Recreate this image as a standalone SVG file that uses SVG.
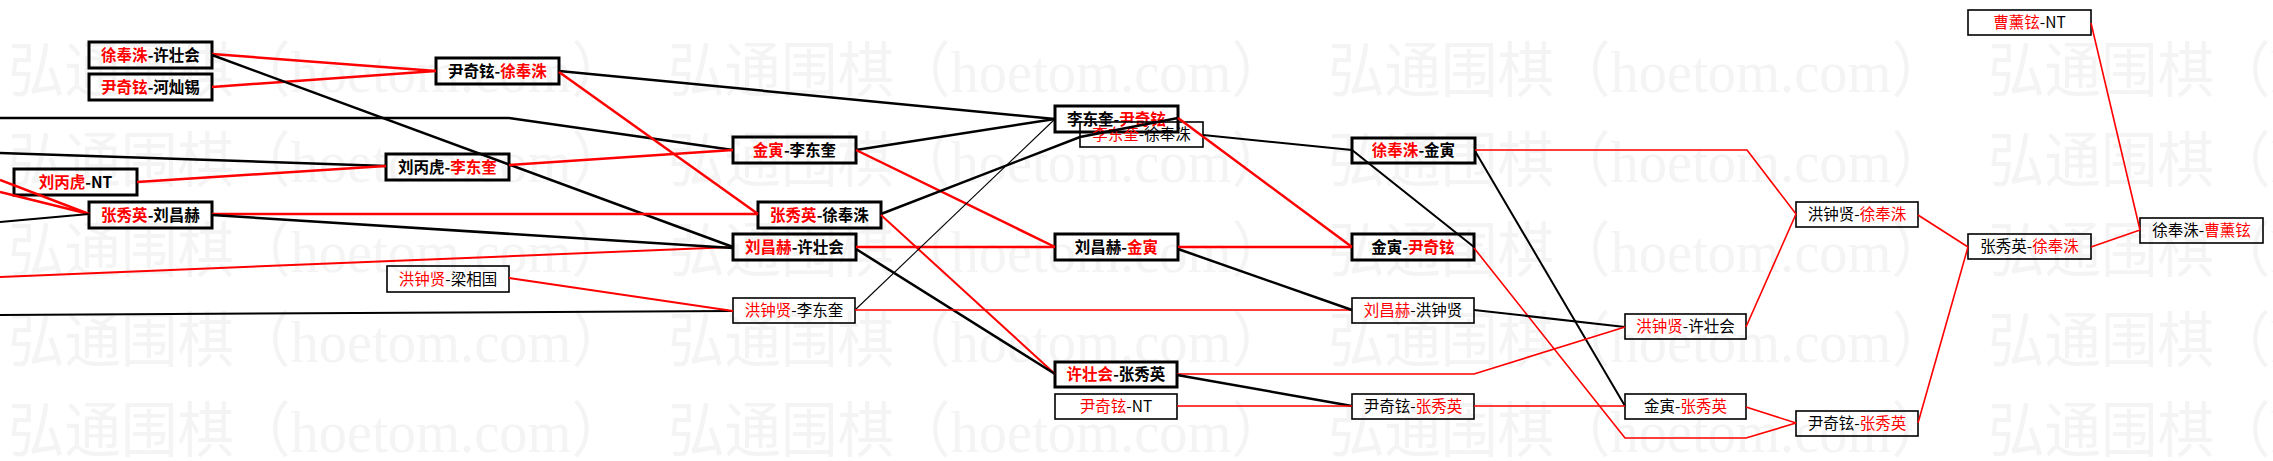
<svg xmlns="http://www.w3.org/2000/svg" width="2273" height="461" viewBox="0 0 2273 461">
<style>
.wm{font-family:"Liberation Serif","Noto Sans CJK SC",serif;font-size:60px;fill:#f4f4f4}
.bx{fill:none;stroke:#000}
.tk{stroke-width:3}
.tn{stroke-width:1.6}
.t{font-family:"Noto Sans CJK SC",sans-serif;font-size:15.5px;fill:#000;text-anchor:middle}
.b{font-weight:bold}
.r{fill:#ff0000}
.cr{stroke:#ff0000;fill:none}
.ck{stroke:#000;fill:none}
.w3{stroke-width:2.5}
.w2{stroke-width:2}
.w1{stroke-width:1.6}
.w0{stroke-width:1.1}
</style>
<rect width="2273" height="461" fill="#ffffff"/>
<g id="watermark">
<text class="wm" x="8" y="92" textLength="620" lengthAdjust="spacingAndGlyphs">弘通围棋（hoetom.com）</text>
<text class="wm" x="668" y="92" textLength="620" lengthAdjust="spacingAndGlyphs">弘通围棋（hoetom.com）</text>
<text class="wm" x="1328" y="92" textLength="620" lengthAdjust="spacingAndGlyphs">弘通围棋（hoetom.com）</text>
<text class="wm" x="1988" y="92" textLength="620" lengthAdjust="spacingAndGlyphs">弘通围棋（hoetom.com）</text>
<text class="wm" x="8" y="182" textLength="620" lengthAdjust="spacingAndGlyphs">弘通围棋（hoetom.com）</text>
<text class="wm" x="668" y="182" textLength="620" lengthAdjust="spacingAndGlyphs">弘通围棋（hoetom.com）</text>
<text class="wm" x="1328" y="182" textLength="620" lengthAdjust="spacingAndGlyphs">弘通围棋（hoetom.com）</text>
<text class="wm" x="1988" y="182" textLength="620" lengthAdjust="spacingAndGlyphs">弘通围棋（hoetom.com）</text>
<text class="wm" x="8" y="272" textLength="620" lengthAdjust="spacingAndGlyphs">弘通围棋（hoetom.com）</text>
<text class="wm" x="668" y="272" textLength="620" lengthAdjust="spacingAndGlyphs">弘通围棋（hoetom.com）</text>
<text class="wm" x="1328" y="272" textLength="620" lengthAdjust="spacingAndGlyphs">弘通围棋（hoetom.com）</text>
<text class="wm" x="1988" y="272" textLength="620" lengthAdjust="spacingAndGlyphs">弘通围棋（hoetom.com）</text>
<text class="wm" x="8" y="362" textLength="620" lengthAdjust="spacingAndGlyphs">弘通围棋（hoetom.com）</text>
<text class="wm" x="668" y="362" textLength="620" lengthAdjust="spacingAndGlyphs">弘通围棋（hoetom.com）</text>
<text class="wm" x="1328" y="362" textLength="620" lengthAdjust="spacingAndGlyphs">弘通围棋（hoetom.com）</text>
<text class="wm" x="1988" y="362" textLength="620" lengthAdjust="spacingAndGlyphs">弘通围棋（hoetom.com）</text>
<text class="wm" x="8" y="452" textLength="620" lengthAdjust="spacingAndGlyphs">弘通围棋（hoetom.com）</text>
<text class="wm" x="668" y="452" textLength="620" lengthAdjust="spacingAndGlyphs">弘通围棋（hoetom.com）</text>
<text class="wm" x="1328" y="452" textLength="620" lengthAdjust="spacingAndGlyphs">弘通围棋（hoetom.com）</text>
<text class="wm" x="1988" y="452" textLength="620" lengthAdjust="spacingAndGlyphs">弘通围棋（hoetom.com）</text>
</g>
<g id="n1"><rect class="bx tk" x="89" y="42" width="123" height="26"/><text class="t b" x="150.5" y="60.5"><tspan class="r">徐奉洙</tspan>-许壮会</text></g>
<g id="n2"><rect class="bx tk" x="89" y="74" width="123" height="26"/><text class="t b" x="150.5" y="92.5"><tspan class="r">尹奇铉</tspan>-河灿锡</text></g>
<g id="n3"><rect class="bx tk" x="436" y="58" width="123" height="26"/><text class="t b" x="497.5" y="76.5">尹奇铉-<tspan class="r">徐奉洙</tspan></text></g>
<g id="n4"><rect class="bx tk" x="386" y="154" width="123" height="26"/><text class="t b" x="447.5" y="172.5">刘丙虎-<tspan class="r">李东奎</tspan></text></g>
<g id="n5"><rect class="bx tk" x="14" y="169" width="123" height="26"/><text class="t b" x="75.5" y="187.5"><tspan class="r">刘丙虎</tspan>-NT</text></g>
<g id="n6"><rect class="bx tk" x="89" y="202" width="123" height="26"/><text class="t b" x="150.5" y="220.5"><tspan class="r">张秀英</tspan>-刘昌赫</text></g>
<g id="n7"><rect class="bx tn" x="387" y="266" width="122" height="26"/><text class="t" x="448" y="284.5"><tspan class="r">洪钟贤</tspan>-梁相国</text></g>
<g id="n8"><rect class="bx tk" x="733" y="137" width="123" height="26"/><text class="t b" x="794.5" y="155.5"><tspan class="r">金寅</tspan>-李东奎</text></g>
<g id="n9"><rect class="bx tk" x="758" y="202" width="123" height="26"/><text class="t b" x="819.5" y="220.5"><tspan class="r">张秀英</tspan>-徐奉洙</text></g>
<g id="n10"><rect class="bx tk" x="733" y="234" width="123" height="26"/><text class="t b" x="794.5" y="252.5"><tspan class="r">刘昌赫</tspan>-许壮会</text></g>
<g id="n11"><rect class="bx tn" x="733" y="298" width="122" height="25"/><text class="t" x="794" y="316"><tspan class="r">洪钟贤</tspan>-李东奎</text></g>
<g id="n12"><rect class="bx tk" x="1055" y="106" width="123" height="26"/><text class="t b" x="1116.5" y="124.5">李东奎-<tspan class="r">尹奇铉</tspan></text></g>
<g id="n13"><rect class="bx tn" x="1080" y="122" width="123" height="25"/><text class="t" x="1141.5" y="140"><tspan class="r">李东奎</tspan>-徐奉洙</text></g>
<g id="n14"><rect class="bx tk" x="1055" y="234" width="123" height="26"/><text class="t b" x="1116.5" y="252.5">刘昌赫-<tspan class="r">金寅</tspan></text></g>
<g id="n15"><rect class="bx tk" x="1055" y="362" width="122" height="25"/><text class="t b" x="1116" y="380"><tspan class="r">许壮会</tspan>-张秀英</text></g>
<g id="n16"><rect class="bx tn" x="1055" y="394" width="122" height="25"/><text class="t" x="1116" y="412"><tspan class="r">尹奇铉</tspan>-NT</text></g>
<g id="n17"><rect class="bx tk" x="1352" y="138" width="123" height="25"/><text class="t b" x="1413.5" y="156"><tspan class="r">徐奉洙</tspan>-金寅</text></g>
<g id="n18"><rect class="bx tk" x="1352" y="234" width="122" height="26"/><text class="t b" x="1413" y="252.5">金寅-<tspan class="r">尹奇铉</tspan></text></g>
<g id="n19"><rect class="bx tn" x="1352" y="298" width="122" height="25"/><text class="t" x="1413" y="316"><tspan class="r">刘昌赫</tspan>-洪钟贤</text></g>
<g id="n20"><rect class="bx tn" x="1352" y="394" width="122" height="25"/><text class="t" x="1413" y="412">尹奇铉-<tspan class="r">张秀英</tspan></text></g>
<g id="n21"><rect class="bx tn" x="1625" y="314" width="121" height="25"/><text class="t" x="1685.5" y="332"><tspan class="r">洪钟贤</tspan>-许壮会</text></g>
<g id="n22"><rect class="bx tn" x="1625" y="394" width="121" height="25"/><text class="t" x="1685.5" y="412">金寅-<tspan class="r">张秀英</tspan></text></g>
<g id="n23"><rect class="bx tn" x="1796" y="202" width="122" height="25"/><text class="t" x="1857" y="220">洪钟贤-<tspan class="r">徐奉洙</tspan></text></g>
<g id="n24"><rect class="bx tn" x="1796" y="411" width="122" height="25"/><text class="t" x="1857" y="429">尹奇铉-<tspan class="r">张秀英</tspan></text></g>
<g id="n25"><rect class="bx tn" x="1968" y="234" width="123" height="25"/><text class="t" x="2029.5" y="252">张秀英-<tspan class="r">徐奉洙</tspan></text></g>
<g id="n26"><rect class="bx tn" x="1968" y="10" width="123" height="25"/><text class="t" x="2029.5" y="28"><tspan class="r">曹薰铉</tspan>-NT</text></g>
<g id="n27"><rect class="bx tn" x="2140" y="218" width="123" height="25"/><text class="t" x="2201.5" y="236">徐奉洙-<tspan class="r">曹薰铉</tspan></text></g>
<g id="connectors">
<polyline class="ck w3" points="0,118 509,118 733,150"/>
<line class="ck w3" x1="0" y1="153" x2="386" y2="166"/>
<line class="cr w3" x1="0" y1="180" x2="89" y2="214"/>
<line class="cr w3" x1="0" y1="192" x2="89" y2="214"/>
<line class="ck w2" x1="0" y1="222" x2="89" y2="214"/>
<line class="cr w2" x1="0" y1="277" x2="733" y2="247"/>
<line class="ck w2" x1="0" y1="315" x2="733" y2="311"/>
<line class="cr w3" x1="212" y1="54" x2="436" y2="71"/>
<line class="cr w3" x1="212" y1="87" x2="436" y2="71"/>
<line class="ck w3" x1="212" y1="55" x2="733" y2="247"/>
<line class="cr w3" x1="137" y1="182" x2="386" y2="166"/>
<line class="cr w3" x1="212" y1="214" x2="758" y2="214"/>
<line class="ck w3" x1="212" y1="215" x2="733" y2="248"/>
<line class="cr w3" x1="509" y1="165" x2="733" y2="150"/>
<line class="cr w2" x1="509" y1="278" x2="733" y2="311"/>
<line class="ck w3" x1="559" y1="71" x2="1055" y2="119"/>
<line class="cr w3" x1="559" y1="72" x2="758" y2="214"/>
<line class="ck w3" x1="856" y1="150" x2="1055" y2="119"/>
<line class="cr w3" x1="856" y1="150" x2="1055" y2="247"/>
<polyline class="ck w3" points="881,214 1080,137 1178,118"/>
<line class="cr w2" x1="881" y1="215" x2="1055" y2="374"/>
<line class="ck w3" x1="856" y1="249" x2="1055" y2="374"/>
<line class="cr w3" x1="856" y1="247" x2="1055" y2="247"/>
<line class="ck w0" x1="855" y1="310" x2="1055" y2="119"/>
<line class="cr w1" x1="855" y1="310" x2="1352" y2="310"/>
<line class="cr w3" x1="1178" y1="118" x2="1352" y2="247"/>
<polyline class="ck w2" points="1203,135 1352,150 1474,247"/>
<line class="ck w2" x1="1475" y1="151" x2="1625" y2="406"/>
<polyline class="cr w1" points="1475,150 1747,150 1796,214"/>
<line class="cr w3" x1="1178" y1="247" x2="1352" y2="247"/>
<line class="ck w3" x1="1178" y1="249" x2="1352" y2="310"/>
<polyline class="cr w1" points="1474,248 1625,438 1746,438 1796,423"/>
<line class="ck w2" x1="1474" y1="310" x2="1625" y2="327"/>
<polyline class="cr w1" points="1177,374 1474,374 1625,327"/>
<line class="ck w3" x1="1177" y1="375" x2="1352" y2="406"/>
<line class="cr w1" x1="1177" y1="406" x2="1352" y2="406"/>
<line class="cr w1" x1="1474" y1="406" x2="1625" y2="406"/>
<line class="cr w1" x1="1746" y1="407" x2="1796" y2="423"/>
<line class="cr w1" x1="1746" y1="327" x2="1796" y2="214"/>
<line class="cr w1" x1="1918" y1="215" x2="1968" y2="247"/>
<line class="cr w1" x1="1918" y1="423" x2="1968" y2="247"/>
<line class="cr w1" x1="2091" y1="247" x2="2140" y2="230"/>
<line class="cr w1" x1="2091" y1="23" x2="2140" y2="230"/>
</g>
</svg>
